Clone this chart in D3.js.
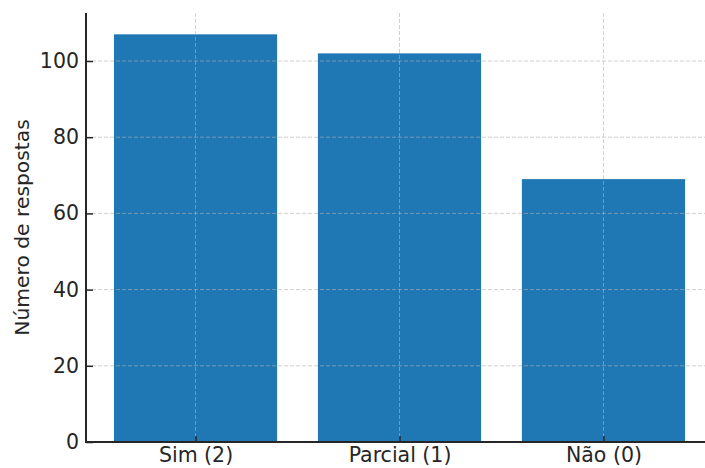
<!DOCTYPE html>
<html><head><meta charset="utf-8">
<script src="https://cdn.jsdelivr.net/npm/d3@7"></script>
<style>body{margin:0;background:#fff}svg{display:block}text{font-family:"DejaVu Sans",sans-serif;fill:#262626}</style>
</head><body>
<script>
const categories = ["Sim (2)", "Parcial (1)", "Não (0)"];
const values = [107, 102, 69];
const yTicks = [0, 20, 40, 60, 80, 100];

(function () {
const W = 705, H = 468;
const mLeft = 86, mTop = 13, mBottom = 442;
const FS = 20.5;
const svg = d3.select("body").append("svg").attr("width", W).attr("height", H);

const x = d3.scaleLinear().domain([-0.537, 2.537]).range([mLeft, 713]);
const y = d3.scaleLinear().domain([0, 112.6]).range([mBottom, mTop]);
const bw = x(0.4) - x(-0.4);

// bars
svg.append("g").selectAll("rect").data(values).join("rect")
  .attr("x", (d, i) => x(i) - bw / 2)
  .attr("width", bw)
  .attr("y", d => y(d))
  .attr("height", d => y(0) - y(d))
  .attr("fill", "#1f77b4");

// grid (over bars)
const grid = svg.append("g").attr("stroke", "#b0b0b0").attr("stroke-opacity", 0.6)
  .attr("stroke-width", 1).attr("stroke-dasharray", "4,2");
grid.selectAll(".h").data(yTicks.filter(t => t > 0)).join("line")
  .attr("x1", mLeft).attr("x2", W).attr("y1", d => y(d)).attr("y2", d => y(d));
grid.selectAll(".v").data(categories).join("line")
  .attr("x1", (d, i) => x(i)).attr("x2", (d, i) => x(i)).attr("y1", mTop).attr("y2", mBottom);

// y axis (ticks inward)
const yAxis = svg.append("g").attr("transform", `translate(${mLeft},0)`)
  .call(d3.axisLeft(y).tickValues(yTicks).tickSize(-7).tickPadding(7));
yAxis.select(".domain").remove();
yAxis.selectAll(".tick line").attr("stroke", "#262626").attr("stroke-width", 1.5);
yAxis.selectAll(".tick text").attr("font-size", FS).attr("font-family", "DejaVu Sans").attr("fill", "#262626");

// x axis (ticks inward)
const xAxis = svg.append("g").attr("transform", `translate(0,${mBottom})`)
  .call(d3.axisBottom(x).tickValues(d3.range(categories.length)).tickFormat(i => categories[i]).tickSize(-6));
xAxis.select(".domain").remove();
xAxis.selectAll(".tick line").attr("stroke", "#262626").attr("stroke-width", 1.5);
xAxis.selectAll(".tick text").attr("y", 20).attr("dy", 0)
  .attr("font-size", FS).attr("font-family", "DejaVu Sans").attr("fill", "#262626");

// spines
svg.append("line").attr("x1", mLeft).attr("x2", mLeft).attr("y1", mTop).attr("y2", mBottom + 1)
  .attr("stroke", "#262626").attr("stroke-width", 2);
svg.append("line").attr("x1", mLeft - 1).attr("x2", W).attr("y1", mBottom).attr("y2", mBottom)
  .attr("stroke", "#262626").attr("stroke-width", 2);

// y label
svg.append("text").attr("transform", `translate(29,${(mTop + mBottom) / 2}) rotate(-90)`)
  .attr("text-anchor", "middle").attr("font-size", 20.3).text("Número de respostas");
})();
</script>
</body></html>
